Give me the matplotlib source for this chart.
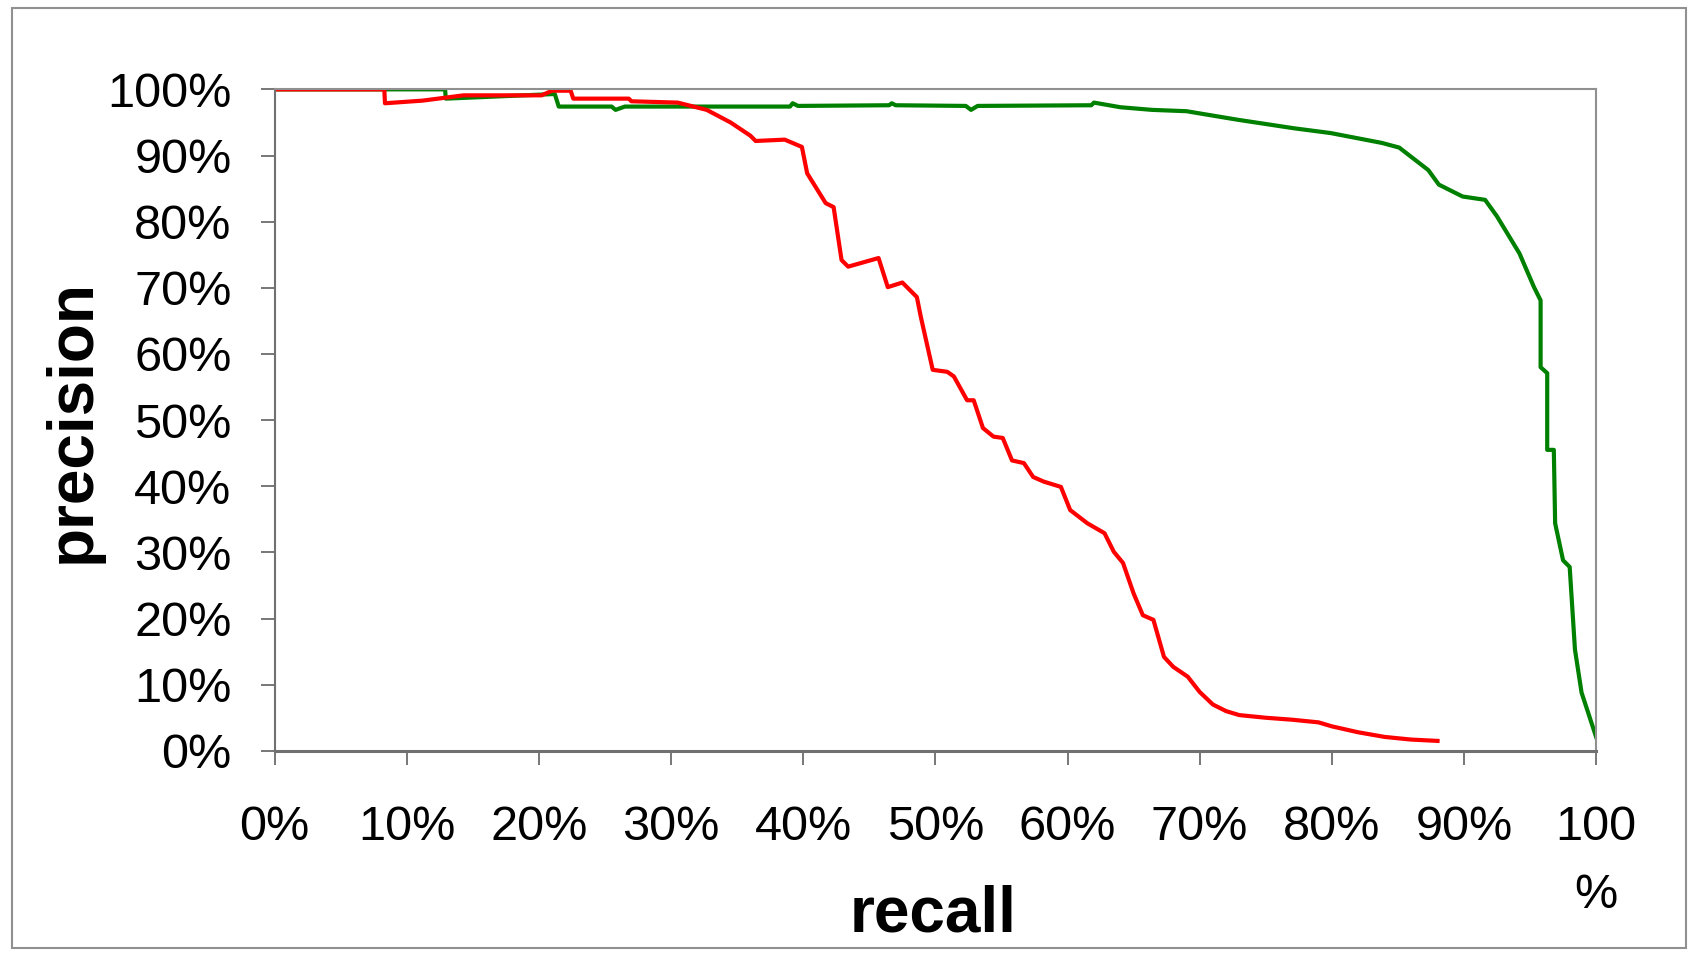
import matplotlib
matplotlib.use('Agg')
import matplotlib.pyplot as plt
from matplotlib.patches import Rectangle

plt.rcParams['font.family'] = ['Liberation Sans', 'DejaVu Sans']

# precision / recall curves (in %)
red_recall = [0, 8.3, 8.35, 11.2, 14.3, 20.2, 21.0, 22.4, 22.6, 26.8, 27.0, 30.5, 32.7,
              34.5, 36.0, 36.4, 38.6, 39.9, 40.3, 41.7, 42.3, 42.9, 43.4, 45.7, 46.4,
              47.5, 48.6, 48.9, 49.8, 50.9, 51.4, 52.4, 52.9, 53.6, 54.4, 55.1, 55.8,
              56.7, 57.4, 58.2, 59.5, 60.2, 61.5, 62.8, 63.5, 64.2, 65.0, 65.7, 66.5,
              67.3, 68.0, 69.1, 70.0, 71.0, 72.0, 73.0, 75.0, 77.0, 79.0, 80.0, 82.0,
              84.0, 86.0, 88.0]
red_precision = [100, 100, 97.9, 98.3, 99.1, 99.1, 99.8, 99.8, 98.6, 98.6, 98.2, 98.0, 96.9,
                 95.0, 93.0, 92.2, 92.4, 91.3, 87.3, 82.8, 82.2, 74.2, 73.2, 74.5, 70.1,
                 70.8, 68.6, 65.6, 57.6, 57.3, 56.6, 53.0, 53.0, 48.8, 47.5, 47.3, 43.9,
                 43.5, 41.4, 40.7, 39.9, 36.4, 34.4, 32.9, 30.1, 28.4, 23.8, 20.5, 19.8,
                 14.2, 12.7, 11.2, 8.9, 7.0, 6.0, 5.4, 5.0, 4.7, 4.3, 3.7, 2.8,
                 2.1, 1.7, 1.5]

green_recall = [0, 12.9, 12.95, 21.2, 21.5, 25.5, 25.8, 26.5, 39.0, 39.2, 39.6, 46.5, 46.7,
                47.0, 52.3, 52.7, 53.2, 61.8, 62.0, 64.0, 66.4, 69.0, 72.9, 77.2, 79.9,
                83.8, 85.1, 87.3, 88.1, 89.9, 91.6, 92.5, 94.2, 95.3, 95.8, 95.8, 96.3,
                96.3, 96.8, 96.9, 97.5, 98.0, 98.4, 98.9, 100]
green_precision = [100, 100, 98.6, 99.3, 97.4, 97.4, 96.9, 97.4, 97.4, 97.9, 97.5, 97.6, 97.9,
                   97.6, 97.5, 96.9, 97.5, 97.6, 98.0, 97.3, 96.9, 96.7, 95.4, 94.1, 93.4,
                   91.9, 91.2, 87.8, 85.6, 83.8, 83.3, 80.8, 75.2, 70.1, 68.1, 58.0, 57.1,
                   45.5, 45.5, 34.4, 28.8, 27.8, 15.3, 8.8, 2.1]

ticks = list(range(0, 101, 10))
x_labels = ['0%', '10%', '20%', '30%', '40%', '50%', '60%', '70%', '80%', '90%', '100\n%']
y_labels = ['%d%%' % t for t in ticks]

fig = plt.figure(figsize=(16.89, 9.6), dpi=100)
ax = fig.add_axes([0.1626, 0.2179, 0.7824, 0.6890])

ax.plot(green_recall, green_precision, color='#008000', lw=3.0, solid_joinstyle='round')
ax.plot(red_recall, red_precision, color='#ff0000', lw=3.0, solid_joinstyle='round')

ax.set_xlim(0, 100)
ax.set_ylim(0, 100)
ax.set_xticks(ticks)
ax.set_xticklabels(x_labels, fontsize=35, linespacing=1.65, va='top')
ax.set_yticks(ticks)
ax.set_yticklabels(y_labels, fontsize=35)
ax.tick_params(axis='x', direction='out', length=10, width=1.2, color='#606060', pad=29)
ax.tick_params(axis='y', direction='out', length=10, width=1.2, color='#606060', pad=21)

for side in ['top', 'right']:
    ax.spines[side].set_color('#909090')
    ax.spines[side].set_linewidth(1.5)
ax.spines['left'].set_color('#707070')
ax.spines['left'].set_linewidth(1.5)
ax.spines['bottom'].set_color('#707070')
ax.spines['bottom'].set_linewidth(2.2)

fig.text(73 / 1689, 1 - 421 / 960, 'precision', rotation=90, ha='center', va='center',
         fontsize=46, fontweight='bold')
fig.text(933 / 1689, 28 / 960, 'recall', ha='center', va='baseline',
         fontsize=46, fontweight='bold')

# outer chart frame
fig.patches.append(Rectangle((12 / 1689, 12 / 960), 1674 / 1689, 940 / 960,
                             transform=fig.transFigure, fill=False,
                             edgecolor='#909090', lw=1.5))

fig.savefig('out.png', dpi=100)
